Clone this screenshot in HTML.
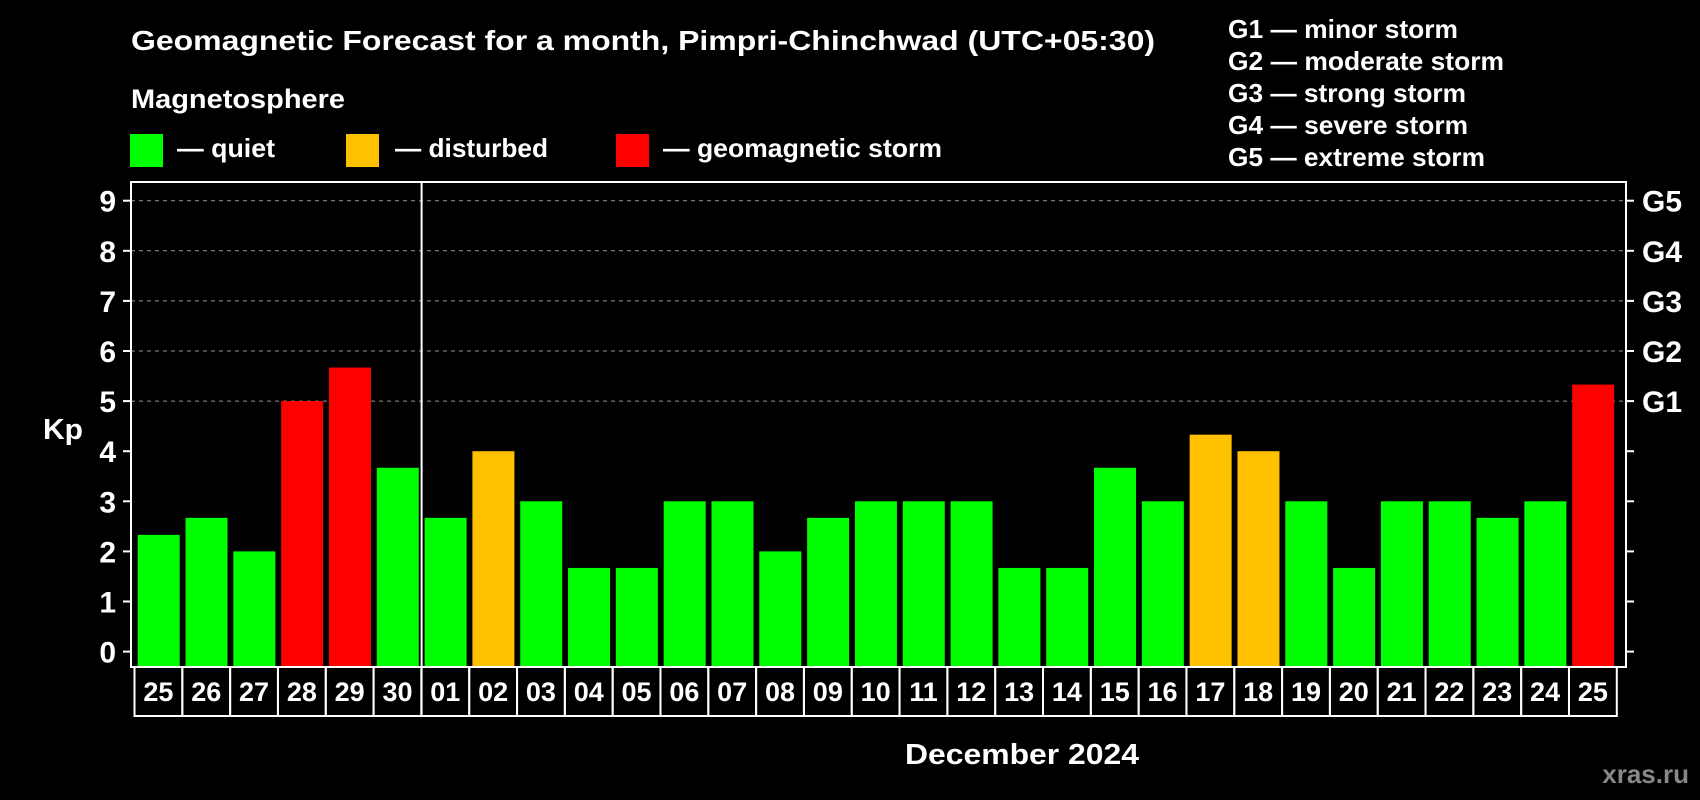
<!DOCTYPE html>
<html><head><meta charset="utf-8"><style>
body{margin:0;background:#000;width:1700px;height:800px;overflow:hidden;font-family:"Liberation Sans",sans-serif;font-weight:bold;color:#fff}
svg{position:absolute;left:0;top:0}
</style></head><body>
<svg width="1700" height="800" font-family="Liberation Sans, sans-serif" font-weight="bold">
<text x="131" y="50" font-size="28" fill="#fff" textLength="1024" lengthAdjust="spacingAndGlyphs">Geomagnetic Forecast for a month, Pimpri-Chinchwad (UTC+05:30)</text>
<text x="131" y="108" font-size="27" fill="#fff" textLength="214" lengthAdjust="spacingAndGlyphs">Magnetosphere</text>
<rect x="130" y="134" width="33" height="33" fill="#00ff00"/>
<text x="177" y="157" font-size="26" fill="#fff" textLength="98" lengthAdjust="spacingAndGlyphs">— quiet</text>
<rect x="346" y="134" width="33" height="33" fill="#ffc000"/>
<text x="395" y="157" font-size="26" fill="#fff" textLength="153" lengthAdjust="spacingAndGlyphs">— disturbed</text>
<rect x="616" y="134" width="33" height="33" fill="#ff0000"/>
<text x="663" y="157" font-size="26" fill="#fff" textLength="279" lengthAdjust="spacingAndGlyphs">— geomagnetic storm</text>
<g font-size="26" fill="#fff">
<text x="1228" y="38" textLength="230" lengthAdjust="spacingAndGlyphs">G1 — minor storm</text>
<text x="1228" y="70" textLength="276" lengthAdjust="spacingAndGlyphs">G2 — moderate storm</text>
<text x="1228" y="102" textLength="238" lengthAdjust="spacingAndGlyphs">G3 — strong storm</text>
<text x="1228" y="134" textLength="240" lengthAdjust="spacingAndGlyphs">G4 — severe storm</text>
<text x="1228" y="166" textLength="257" lengthAdjust="spacingAndGlyphs">G5 — extreme storm</text>
</g>
<text x="43" y="439" font-size="29" fill="#fff" textLength="40" lengthAdjust="spacingAndGlyphs">Kp</text>
<g id="plot"></g>
<text x="905" y="764" font-size="29" fill="#fff" textLength="234" lengthAdjust="spacingAndGlyphs">December 2024</text>
<text x="1689" y="783" font-size="26" fill="#888" text-anchor="end">xras.ru</text>
</svg>
<script>
const days=["25","26","27","28","29","30","01","02","03","04","05","06","07","08","09","10","11","12","13","14","15","16","17","18","19","20","21","22","23","24","25"];
const kp=[2.33,2.67,2,5,5.67,3.67,2.67,4,3,1.67,1.67,3,3,2,2.67,3,3,3,1.67,1.67,3.67,3,4.33,4,3,1.67,3,3,2.67,3,5.33];
const yTicks=[0,1,2,3,4,5,6,7,8,9];
const gLabels=["G1","G2","G3","G4","G5"];
const NS="http://www.w3.org/2000/svg";
const g=document.getElementById('plot');
const L=131,R=1626,T=182,B=667;
const y=v=>651.6-v*50.1;
const step=(1620-137.7)/31;
const x=i=>137.7+i*step;
function mk(t,a){const e=document.createElementNS(NS,t);for(const k in a)e.setAttribute(k,a[k]);g.appendChild(e);return e;}
yTicks.forEach(v=>{
 if(v>=5){const l=mk('line',{x1:L,x2:R,y1:y(v),y2:y(v),stroke:'#999','stroke-dasharray':'4,4','stroke-width':1});
 
 }
 mk('line',{x1:L-8,x2:L,y1:y(v),y2:y(v),stroke:'#fff','stroke-width':2});
 mk('line',{x1:R,x2:R+8,y1:y(v),y2:y(v),stroke:'#fff','stroke-width':2});
 const t=mk('text',{x:L-15,y:y(v)+11,'font-size':30,fill:'#fff','text-anchor':'end'});t.textContent=v;
 
 
});
gLabels.forEach((s,i)=>{const t=mk('text',{x:R+16,y:y(i+5)+11,'font-size':30,fill:'#fff'});t.textContent=s;
 
 });
kp.forEach((v,i)=>{
 const c=v>=5?'#ff0000':v>=4?'#ffc000':'#00ff00';
 const r=mk('rect',{x:x(i),y:y(v),width:42,height:B-1-y(v),fill:c});
 
 
 mk('rect',{x:134.5+i*step,y:667,width:step,height:49,fill:'none',stroke:'#fff','stroke-width':2});
 const t=mk('text',{x:134.5+i*step+step/2,y:701,'font-size':27,fill:'#fff','text-anchor':'middle'});t.textContent=days[i];
 
 
});
const f=mk('rect',{x:L,y:T,width:R-L,height:B-T,fill:'none',stroke:'#fff','stroke-width':2});


const d=mk('line',{x1:x(6)-3,x2:x(6)-3,y1:T,y2:716,stroke:'#fff','stroke-width':2});


</script>
</body></html>
